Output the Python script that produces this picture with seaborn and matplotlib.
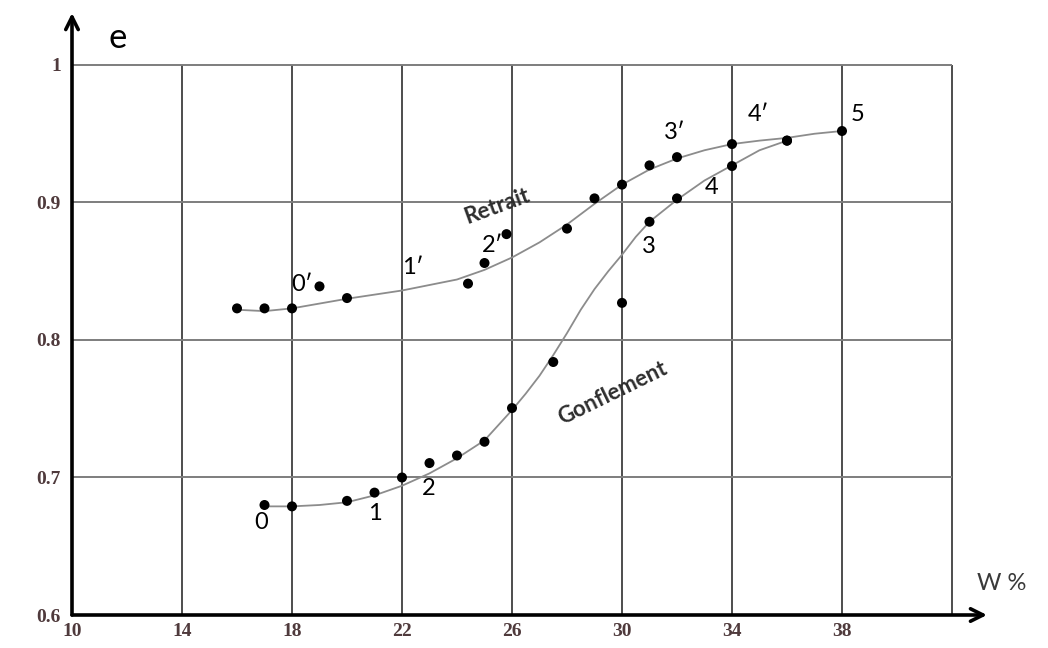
import matplotlib
matplotlib.use("Agg")
import matplotlib.pyplot as plt
import seaborn as sns
import numpy as np

# ---------------- data ----------------
retrait_w = [16, 17, 18, 19, 20, 24.4, 25, 25.8, 28, 29, 30, 31, 32, 34, 36, 38]
retrait_e = [0.823, 0.823, 0.823, 0.839, 0.8305, 0.841, 0.856, 0.877, 0.881,
             0.903, 0.913, 0.927, 0.933, 0.9425, 0.945, 0.952]

gonf_w = [17, 18, 20, 21, 22, 23, 24, 25, 26, 27.5, 30, 31, 32, 34, 36]
gonf_e = [0.680, 0.679, 0.683, 0.689, 0.700, 0.7105, 0.716, 0.726, 0.7505,
          0.784, 0.827, 0.886, 0.903, 0.9265, 0.945]

# smooth trend curves
retrait_curve_w = [16, 17, 18, 19, 20, 21, 22, 23, 24, 25, 26, 27, 28, 29, 30,
                   31, 32, 33, 34, 35, 36, 37, 38]
retrait_curve_e = [0.822, 0.821, 0.823, 0.8265, 0.830, 0.833, 0.836, 0.840, 0.844,
                   0.851, 0.860, 0.871, 0.884, 0.899, 0.913, 0.924, 0.932, 0.938,
                   0.9425, 0.945, 0.947, 0.950, 0.952]

gonf_curve_w = [17, 18, 19, 20, 21, 22, 23, 24, 25, 26, 26.5, 27, 27.5, 28, 28.5,
                29, 29.5, 30, 30.5, 31, 32, 33, 34, 35, 36]
gonf_curve_e = [0.679, 0.679, 0.680, 0.682, 0.687, 0.694, 0.703, 0.714, 0.727,
                0.749, 0.761, 0.774, 0.789, 0.805, 0.822, 0.837, 0.850, 0.862,
                0.875, 0.886, 0.902, 0.916, 0.927, 0.938, 0.945]

x_ticks = [10, 14, 18, 22, 26, 30, 34, 38]
x_grid = [14, 18, 22, 26, 30, 34, 38, 42]
y_ticks = [0.6, 0.7, 0.8, 0.9, 1.0]
y_tick_labels = ["0.6", "0.7", "0.8", "0.9", "1"]

point_labels = ["0", "1", "2", "3", "4", "5", "0′", "1′", "2′", "3′", "4′"]
point_label_pos = [(16.87, 0.667), (21.02, 0.674), (22.98, 0.692), (30.98, 0.868),
                   (33.27, 0.911), (38.58, 0.964), (18.36, 0.840), (22.4, 0.853),
                   (25.3, 0.869), (31.93, 0.951), (34.95, 0.964)]

# ---------------- figure ----------------
sns.set_style("white")
fig = plt.figure(figsize=(10.48, 6.48), dpi=100)
ax = fig.add_axes([72 / 1048, 33 / 648, 915 / 1048, 602 / 648])
ax.set_xlim(10, 10 + 915 / 27.5)
ax.set_ylim(0.6, 0.6 + 602 / 1375)
for s in ax.spines.values():
    s.set_visible(False)

# grid
ax.vlines(x_grid, 0.6, 1.0, color="#4d4d4d", lw=1.4, zorder=1)
ax.hlines([0.7, 0.8, 0.9, 1.0], 10, 42, color="#7d7d7d", lw=1.4, zorder=1)

# curves
sns.lineplot(x=retrait_curve_w, y=retrait_curve_e, ax=ax, color="#8c8c8c",
             lw=1.3, sort=False, estimator=None, zorder=2)
sns.lineplot(x=gonf_curve_w, y=gonf_curve_e, ax=ax, color="#8c8c8c",
             lw=1.3, sort=False, estimator=None, zorder=2)

# points
sns.scatterplot(x=retrait_w, y=retrait_e, ax=ax, color="black", s=52,
                edgecolor="none", zorder=3)
sns.scatterplot(x=gonf_w, y=gonf_e, ax=ax, color="black", s=52,
                edgecolor="none", zorder=3)

# axes arrows
ax.annotate("", xy=(10 + 915 / 27.5, 0.6), xytext=(10, 0.6),
            arrowprops=dict(arrowstyle="->,head_width=0.45,head_length=0.9",
                            lw=2.6, color="black", shrinkA=0, shrinkB=0),
            annotation_clip=False, zorder=4)
ax.annotate("", xy=(10, 0.6 + 602 / 1375), xytext=(10, 0.6),
            arrowprops=dict(arrowstyle="->,head_width=0.45,head_length=0.9",
                            lw=2.6, color="black", shrinkA=0, shrinkB=0),
            annotation_clip=False, zorder=4)

# ticks
ax.set_xticks(x_ticks)
ax.set_xticklabels([str(t) for t in x_ticks])
ax.set_yticks(y_ticks)
ax.set_yticklabels(y_tick_labels)
ax.tick_params(axis="both", length=0)
ax.tick_params(axis="x", pad=6)
ax.tick_params(axis="y", pad=8)
for lab in ax.get_xticklabels() + ax.get_yticklabels():
    lab.set_fontfamily(["Liberation Serif", "DejaVu Serif"])
    lab.set_fontweight("bold")
    lab.set_fontsize(14)
    lab.set_color("#4f3a3c")
ax.set_xlabel("")
ax.set_ylabel("")

sans = ["Lato", "DejaVu Sans"]
# point labels
for txt, (px, py) in zip(point_labels, point_label_pos):
    ax.text(px, py, txt, fontsize=17, family=sans, ha="center", va="center",
            color="black", zorder=5)

ax.text(25.45, 0.897, "Retrait", fontsize=16, family=sans, fontweight="bold",
        rotation=20, ha="center", va="center", color="#2e2e2e", zorder=5)
ax.text(29.64, 0.761, "Gonflement", fontsize=16, family=sans, fontweight="bold",
        rotation=26, ha="center", va="center", color="#2e2e2e", zorder=5)

ax.text(11.67, 1.0196, "e", fontsize=25, family=sans, ha="center", va="center",
        color="black")
ax.text(43.8, 0.623, "W %", fontsize=17, family=sans, ha="center", va="center",
        color="#3a3a3a", clip_on=False)

fig.savefig("out.png", dpi=100)
